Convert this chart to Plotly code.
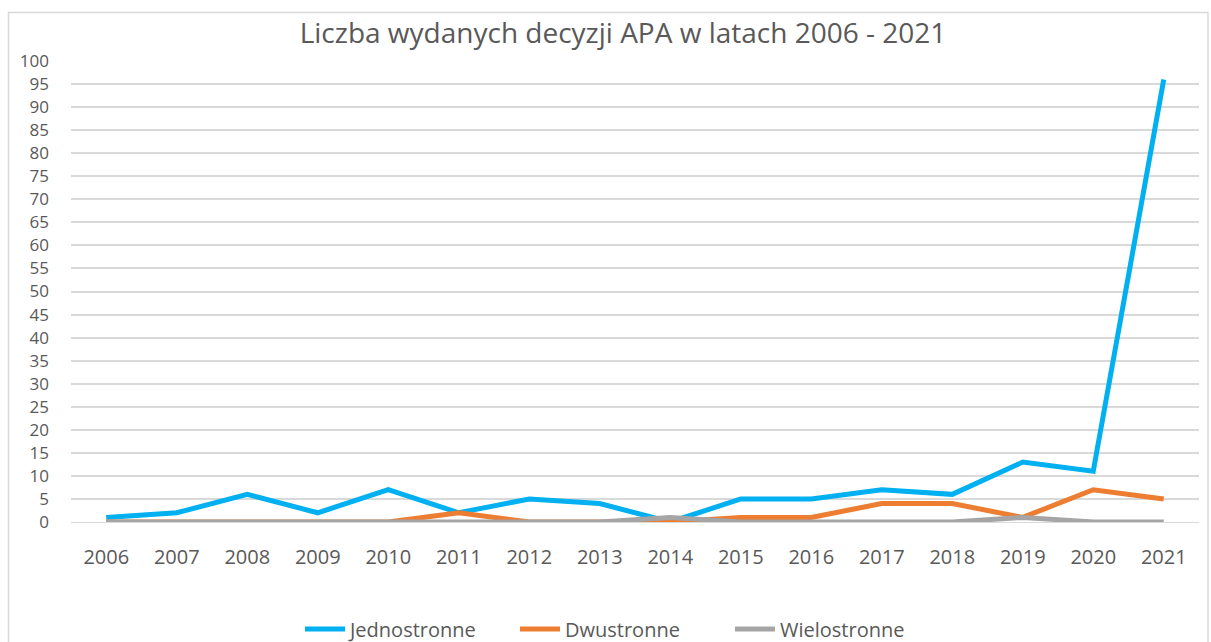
import plotly.graph_objects as go

years = ["2006", "2007", "2008", "2009", "2010", "2011", "2012", "2013",
         "2014", "2015", "2016", "2017", "2018", "2019", "2020", "2021"]
jednostronne = [1, 2, 6, 2, 7, 2, 5, 4, 0, 5, 5, 7, 6, 13, 11, 96]
dwustronne = [0, 0, 0, 0, 0, 2, 0, 0, 0, 1, 1, 4, 4, 1, 7, 5]
wielostronne = [0, 0, 0, 0, 0, 0, 0, 0, 1, 0, 0, 0, 0, 1, 0, 0]

series = [("Jednostronne", jednostronne, "#00B0F0"),
          ("Dwustronne", dwustronne, "#ED7D31"),
          ("Wielostronne", wielostronne, "#A5A5A5")]

FONT = "Open Sans, sans-serif"

fig = go.Figure()
for name, vals, col in series:
    fig.add_trace(go.Scatter(x=years, y=vals, name=name, mode="lines",
                             line=dict(color=col, width=5)))

W, H = 1211, 642
ml, mr, mt, mb = 71, 12, 61, 120
pw, ph = W - ml - mr, H - mt - mb

def px_x(p):
    return (p - ml) / pw

def px_y(p):
    return (H - mb - p) / ph

fig.update_layout(
    width=W, height=H,
    margin=dict(l=ml, r=mr, t=mt, b=mb, autoexpand=False),
    paper_bgcolor="white", plot_bgcolor="white",
    font=dict(family=FONT, size=19, color="#595959"),
    title=dict(text="Liczba wydanych decyzji APA w latach 2006 - 2021",
               x=623 / W, xanchor="center", y=1 - 33 / H, yanchor="middle",
               font=dict(size=28, color="#595959", family=FONT)),
    xaxis=dict(type="category", range=[-0.5, 15.5], showgrid=False,
               showline=True, linecolor="#D9D9D9", linewidth=1,
               ticks="", ticklabelstandoff=17, tickfont=dict(size=20),
               zeroline=False, fixedrange=True, automargin=False),
    yaxis=dict(range=[0, 100], dtick=5, showgrid=True, gridcolor="#D9D9D9",
               gridwidth=1.5, zeroline=False, showline=False, ticks="",
               ticklabelstandoff=21, tickfont=dict(size=17), fixedrange=True,
               automargin=False),
    legend=dict(orientation="h", x=px_x(300), xanchor="left",
                y=px_y(629), yanchor="middle", font=dict(size=20),
                itemwidth=40, entrywidth=160, entrywidthmode="pixels",
                tracegroupgap=0, itemsizing="constant"),
    showlegend=True,
    shapes=[dict(type="rect", xref="paper", yref="paper",
                 x0=px_x(8.5), x1=px_x(1208), y0=px_y(660), y1=px_y(12.5),
                 line=dict(color="#D9D9D9", width=1.5), layer="below")],
)

fig.write_html("out.html",
               config={"displayModeBar": False},
               post_script="document.body.style.margin='0';"
                           "document.body.style.overflow='hidden';")
